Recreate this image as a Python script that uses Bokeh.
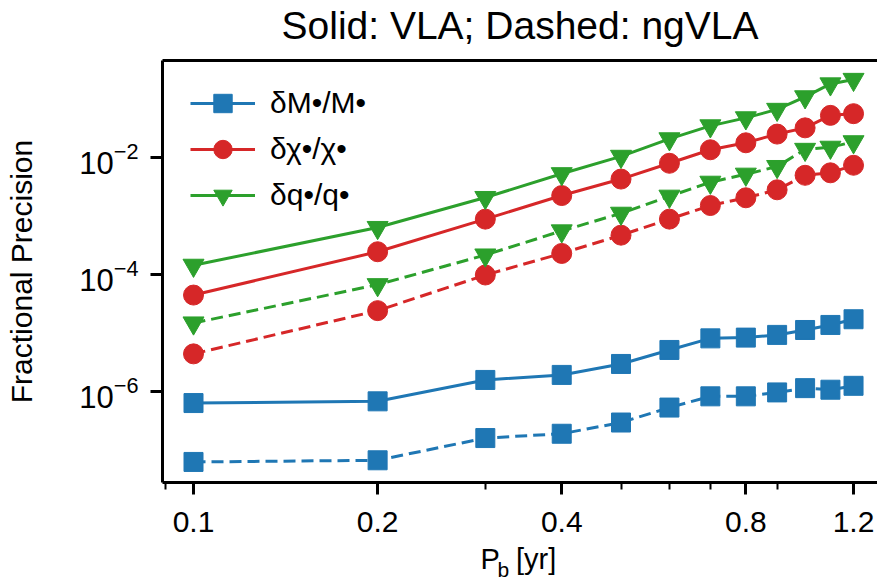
from bokeh.plotting import figure
from bokeh.models import (FixedTicker, LogAxis, PrintfTickFormatter, LogTickFormatter,
                          Legend, LegendItem, Title, Range1d)
from bokeh.core.properties import value
from bokeh.embed import file_html
from bokeh.resources import INLINE

# ---------------- data ----------------
period_yr = [0.1, 0.2, 0.3, 0.4, 0.5, 0.6, 0.7, 0.8, 0.9, 1.0, 1.1, 1.2]

vla_mass = [6.45e-7, 6.9e-7, 1.6e-6, 1.95e-6, 3.0e-6, 5.2e-6,
            8.2e-6, 8.45e-6, 9.4e-6, 1.14e-5, 1.39e-5, 1.74e-5]
ngvla_mass = [6.37e-8, 6.8e-8, 1.63e-7, 1.93e-7, 3.0e-7, 5.4e-7,
              8.4e-7, 8.4e-7, 9.8e-7, 1.16e-6, 1.09e-6, 1.27e-6]

vla_spin = [4.5e-5, 2.47e-4, 8.9e-4, 2.25e-3, 4.3e-3, 8.0e-3,
            1.36e-2, 1.79e-2, 2.52e-2, 3.22e-2, 5.26e-2, 5.62e-2]
ngvla_spin = [4.46e-6, 2.44e-5, 9.9e-5, 2.31e-4, 4.74e-4, 8.9e-4,
              1.52e-3, 2.06e-3, 2.82e-3, 4.99e-3, 5.5e-3, 7.4e-3]

vla_quad = [1.45e-4, 6.4e-4, 2.08e-3, 5.3e-3, 1.05e-2, 2.09e-2,
            3.48e-2, 4.77e-2, 6.65e-2, 0.109, 0.181, 0.216]
ngvla_quad = [1.5e-5, 6.76e-5, 2.17e-4, 5.6e-4, 1.12e-3, 2.19e-3,
              3.79e-3, 5.2e-3, 7.03e-3, 1.38e-2, 1.5e-2, 1.86e-2]

labels = ["δM•/M•", "δχ•/χ•", "δq•/q•"]
x_major_ticks = [0.1, 0.2, 0.4, 0.8, 1.2]
x_minor_ticks = [0.09, 0.3, 0.5, 0.6, 0.7, 0.9]
y_major_ticks = [1e-6, 1e-4, 1e-2]

title_text = "Solid: VLA; Dashed: ngVLA"
y_label = "Fractional Precision"
x_label_main = "P\u00a0\u00a0[yr]"
x_label_sub = "b"

# ---------------- figure ----------------
FONT = "Liberation Sans"
W, H = 877, 582
p = figure(width=W, height=H, x_axis_type="log", y_axis_type="log",
           x_range=Range1d(0.08898, 1.3133), y_range=Range1d(2.84e-8, 0.4546),
           output_backend="svg", toolbar_location=None,
           min_border_left=162, min_border_right=0,
           min_border_top=60, min_border_bottom=100)
p.outline_line_color = None
p.grid.visible = False
p.background_fill_color = "white"

p.title.text = title_text
p.title.text_font = FONT
p.title.text_font_size = "39px"
p.title.text_font_style = "normal"
p.title.text_color = "black"
p.title.align = "center"
p.title.standoff = 0

colors = ["#1f77b4", "#d62728", "#2ca02c"]
markers = ["square", "circle", "inverted_triangle"]
sizes = [19, 20, 21]
vla = [vla_mass, vla_spin, vla_quad]
ngvla = [ngvla_mass, ngvla_spin, ngvla_quad]

items = []
for i in range(3):
    c = colors[i]
    l1 = p.line(period_yr, vla[i], line_color=c, line_width=3)
    s1 = p.scatter(period_yr, vla[i], marker=markers[i], size=sizes[i],
                   fill_color=c, line_color=c, line_width=1)
    p.line(period_yr, ngvla[i], line_color=c, line_width=3, line_dash="12 6")
    p.scatter(period_yr, ngvla[i], marker=markers[i], size=sizes[i],
              fill_color=c, line_color=c, line_width=1)
    items.append(LegendItem(label=value(labels[i]), renderers=[l1, s1]))

legend = Legend(items=items, location=(28, 264), orientation="vertical",
                glyph_width=65, glyph_height=46, spacing=0, padding=0, margin=0,
                label_standoff=15, label_height=46,
                label_text_font=FONT, label_text_font_size="30px",
                label_text_color="black", label_text_baseline="middle",
                background_fill_alpha=0, border_line_alpha=0)
p.add_layout(legend)

# ---------------- axes ----------------
def style_axis(ax):
    ax.axis_line_width = 3
    ax.axis_line_color = "black"
    ax.major_tick_line_width = 3
    ax.major_tick_out = 12
    ax.major_tick_in = 0
    ax.minor_tick_line_width = 2
    ax.minor_tick_out = 7
    ax.minor_tick_in = 0
    ax.major_label_text_font = FONT
    ax.major_label_text_font_size = "30px"
    ax.major_label_text_color = "black"

xa = p.xaxis[0]
style_axis(xa)
xa.ticker = FixedTicker(ticks=x_major_ticks, minor_ticks=x_minor_ticks)
xa.formatter = PrintfTickFormatter(format="%.1f")
xa.major_label_standoff = 17
# blank spacer label: pushes the x-axis title pieces a little lower
xa.axis_label = " "
xa.axis_label_text_font_size = "1px"
xa.axis_label_standoff = 9

ya = p.yaxis[0]
style_axis(ya)
ya.ticker = FixedTicker(ticks=y_major_ticks, minor_ticks=[])
ya.formatter = LogTickFormatter()
ya.major_label_standoff = 12
ya.major_label_text_font_size = "31px"
ya.axis_label = y_label
ya.axis_label_text_font = FONT
ya.axis_label_text_font_size = "30px"
ya.axis_label_text_font_style = "normal"
ya.axis_label_text_color = "black"
ya.axis_label_standoff = 38

# top spine (no ticks, no labels)
top_axis = LogAxis(ticker=FixedTicker(ticks=[], minor_ticks=[]),
                   axis_line_width=3, axis_line_color="black",
                   major_tick_line_color=None, minor_tick_line_color=None,
                   major_label_text_font_size="0px", major_label_standoff=0)
p.add_layout(top_axis, "above")
# thin blank spacer between the top spine and the title
p.add_layout(Title(text=" ", text_font=FONT, text_font_size="1px", standoff=11), "above")

# x-axis label  P_b [yr]: main text plus a small subscript "b"
t_main = Title(text=x_label_main, align="left", offset=318, vertical_align="bottom",
               text_font=FONT, text_font_style="normal", text_font_size="29px",
               text_color="black", standoff=-14)
t_sub = Title(text=x_label_sub, align="left", offset=335, vertical_align="bottom",
              text_font=FONT, text_font_style="normal", text_font_size="21px",
              text_color="black", standoff=-26)
p.add_layout(t_main, "below")
p.add_layout(t_sub, "below")

open("out.html", "w").write(file_html(p, INLINE))
